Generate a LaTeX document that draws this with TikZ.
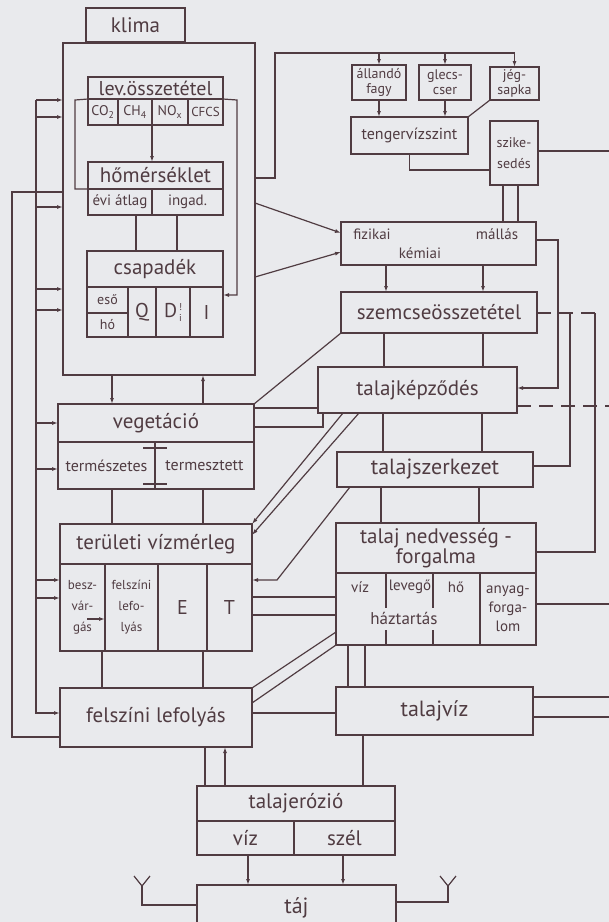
\documentclass[tikz,border=0pt]{standalone}
\usepackage{fontspec}
\setmainfont{PT Sans}
\usetikzlibrary{arrows.meta}
\definecolor{ink}{RGB}{80,60,66}
\definecolor{paper}{RGB}{233,234,237}
\newcommand\fsz[1]{\fontsize{#1}{#1}\selectfont}
\newcommand\fsk[2]{\fontsize{#1}{#2}\selectfont}

\begin{document}
\begin{tikzpicture}
[x=1pt,y=-1pt]
\tikzset{box/.style={draw=ink,line width=1.3pt,inner sep=0pt,outer sep=0pt,anchor=north west,align=center,text=ink}}
\tikzset{lbl/.style={inner sep=0pt,text=ink,align=center}}
\tikzset{con/.style={draw=ink,line width=1.2pt}}
\tikzset{arr/.style={con,-{Latex[length=6pt,width=4pt]}}}
\tikzset{brk/.style={dash pattern=on 14pt off 8pt}}
\useasboundingbox[fill=paper] (0,0) rectangle (609,922);

% klima
\node [box,minimum width=99pt,minimum height=34pt,font={\fsz{21}}] (klima) at (86,8) {klima};
\node [box,minimum width=192pt,minimum height=332pt] (klimabox) at (63,43) {};
\node [box,minimum width=135pt,minimum height=22pt,font={\fsz{20}}] (lev) at (88,77) {lev.összetétel};
\node [box,minimum width=30pt,minimum height=26pt,font={\fsz{14}}] (co2) at (88,99) {CO\textsubscript{2}};
\node [box,minimum width=34pt,minimum height=26pt,font={\fsz{14}}] (ch4) at (118,99) {CH\textsubscript{4}};
\node [box,minimum width=36pt,minimum height=26pt,font={\fsz{14}}] (nox) at (152,99) {NO\textsubscript{x}};
\node [box,minimum width=35pt,minimum height=26pt,font={\fsz{13}}] (cfcs) at (188,99) {CFCS};
\node [box,minimum width=135pt,minimum height=27pt,font={\fsz{21}}] (hom) at (88,162) {hőmérséklet};
\node [box,minimum width=64pt,minimum height=26pt,font={\fsz{15}}] (atlag) at (88,189) {évi átlag};
\node [box,minimum width=71pt,minimum height=26pt,font={\fsz{15}}] (ingad) at (152,189) {ingad.};
\node [box,minimum width=136pt,minimum height=36pt,font={\fsz{21}}] (csap) at (87,251) {csapadék};
\node [box,minimum width=41pt,minimum height=26pt,font={\fsz{14}}] (eso) at (87,287) {eső};
\node [box,minimum width=41pt,minimum height=24pt,font={\fsz{14}}] (ho) at (87,313) {hó};
\node [box,minimum width=28pt,minimum height=50pt,font={\fsz{20}}] (qcell) at (128,287) {Q};
\node [box,minimum width=34pt,minimum height=50pt,font={\fsz{20}}] (dcell) at (156,287) {D\kern2pt\rlap{\raisebox{7pt}{\fsz{10}!}}\raisebox{-4pt}{\fsz{10}i}};
\node [box,minimum width=33pt,minimum height=50pt,font={\fsz{20}}] (icell) at (190,287) {I};

% vegetacio, vizmerleg, lefolyas
\node [box,minimum width=196pt,minimum height=38pt,font={\fsz{21}}] (veg) at (58,404) {vegetáció};
\node [box,minimum width=97pt,minimum height=47pt,font={\fsz{16}}] (term1) at (58,442) {természetes};
\node [box,minimum width=99pt,minimum height=47pt,font={\fsz{16}}] (term2) at (155,442) {termesztett};
\node [box,minimum width=192pt,minimum height=40pt,font={\fsz{21}}] (terul) at (60,524) {területi vízmérleg};
\node [box,minimum width=45pt,minimum height=87pt,font={\fsk{13}{21}}] (besz) at (60,564) {besz-\\vár-\\gás};
\node [box,minimum width=53pt,minimum height=87pt,font={\fsk{13}{21}}] (felsz) at (105,564) {felszíni\\lefo-\\lyás};
\node [box,minimum width=49pt,minimum height=87pt,font={\fsz{20}}] (ecell) at (158,564) {E};
\node [box,minimum width=45pt,minimum height=87pt,font={\fsz{20}}] (tcell) at (207,564) {T};
\node [box,minimum width=192pt,minimum height=59pt,font={\fsz{21}}] (felszin) at (60,688) {felszíni lefolyás};

% erozio, taj
\node [box,minimum width=198pt,minimum height=35pt,font={\fsz{21}}] (erozio) at (197,786) {talajerózió};
\node [box,minimum width=97pt,minimum height=34pt,font={\fsz{21}}] (eviz) at (197,821) {víz};
\node [box,minimum width=101pt,minimum height=34pt,font={\fsz{21}}] (eszel) at (294,821) {szél};
\node [box,minimum width=199pt,minimum height=45pt,font={\fsz{22}}] (taj) at (197,885) {táj};

% right column
\node [box,minimum width=54pt,minimum height=35pt,font={\fsk{14}{15}}] (fagy) at (352,65) {állandó\\fagy};
\node [box,minimum width=52pt,minimum height=35pt,font={\fsk{14}{15}}] (glecs) at (419,65) {glecs-\\cser};
\node [box,minimum width=49pt,minimum height=33pt,font={\fsk{14}{15}}] (jeg) at (490,67) {jég-\\sapka};
\node [box,minimum width=117pt,minimum height=37pt,font={\fsz{16}}] (tenger) at (351,117) {tengervízszint};
\node [box,minimum width=48pt,minimum height=64pt,font={\fsk{14}{21}}] (szik) at (490,121) {szike-\\sedés};
\node [box,minimum width=195pt,minimum height=43pt] (fiz) at (341,222) {};
\node [lbl,font={\fsz{15}}] (fizt) at (372,234) {fizikai};
\node [lbl,font={\fsz{15}}] (kemt) at (420,253) {kémiai};
\node [lbl,font={\fsz{15}}] (mallt) at (497,234) {mállás};
\node [box,minimum width=196pt,minimum height=41pt,font={\fsz{21}}] (szem) at (341,292) {szemcseösszetétel};
\node [box,minimum width=199pt,minimum height=46pt,font={\fsz{21}}] (tkep) at (318,367) {talajképződés};
\node [box,minimum width=196pt,minimum height=35pt,font={\fsz{22}}] (tszk) at (337,452) {talajszerkezet};
\node [box,minimum width=200pt,minimum height=50pt,font={\fsk{21}{19}}] (tned) at (336,523) {talaj nedvesség -\\forgalma};
\node [box,minimum width=144pt,minimum height=72pt] (haz) at (336,573) {};
\node [lbl,font={\fsz{15}}] (vizt) at (360,587) {víz};
\node [lbl,font={\fsz{15}}] (levt) at (410,587) {levegő};
\node [lbl,font={\fsz{15}}] (hot) at (456,587) {hő};
\node [lbl,font={\fsz{17}}] (hazt) at (404,618) {háztartás};
\node [box,minimum width=56pt,minimum height=72pt,font={\fsk{15}{19}}] (anyag) at (480,573) {anyag-\\forga-\\lom};
\node [box,minimum width=197pt,minimum height=48pt,font={\fsz{22}}] (tviz) at (336,687) {talajvíz};

\coordinate (topline) at (275,53);
\coordinate (lk) at (75,100);
\coordinate (rk) at (237,100);
\coordinate (la) at (36,100);
\coordinate (lb) at (12,737);
\coordinate (mr) at (558,240);
\coordinate (dA) at (570,313);
\coordinate (dB) at (595,313);
\coordinate (bendT) at (277,580);
\coordinate (yl) at (142,886);
\coordinate (yr) at (448,886);
\coordinate (e1) at (609,151);
\coordinate (e2) at (609,406);
\coordinate (e3) at (609,604);
\coordinate (e4) at (609,697);
\coordinate (e5) at (609,717);

% inner dividers
\foreach \dx in {50,97} {
	\draw [con] ([xshift=\dx pt]haz.north west) -- ([xshift=\dx pt,yshift=-35pt]haz.north west);
	\draw [con] ([xshift=\dx pt]haz.south west) -- ([xshift=\dx pt,yshift=15pt]haz.south west);
}
\foreach \dy in {6,42}
	\draw [con] ([xshift=-12pt,yshift=-\dy pt]term2.north west) -- ([xshift=12pt,yshift=-\dy pt]term2.north west);

% inside klima
\draw [arr] (nox.south west) -- (hom.north -| nox.south west);
\draw [con] (lev.south west) -- (lk) |- (hom.south west);
\draw [arr] (lev.south east) -- (rk) |- ([yshift=-8pt]icell.north east);
\draw [con] ([xshift=48pt]atlag.south west) -- ([xshift=49pt]csap.north west);
\draw [con] ([xshift=25pt]ingad.south west) -- ([xshift=90pt]csap.north west);

% left column
\draw [arr] ([xshift=49pt]klimabox.south west) -- ([xshift=54pt]veg.north west);
\draw [arr] ([xshift=145pt]veg.north west) -- ([xshift=140pt]klimabox.south west);
\draw [con] ([xshift=54pt]term1.south west) -- ([xshift=52pt]terul.north west);
\draw [con] ([xshift=48pt]term2.south west) -- ([xshift=143pt]terul.north west);
\draw [con] ([xshift=42pt]besz.south west) -- ([xshift=42pt]felszin.north west);
\draw [con] ([xshift=-4pt]tcell.south west) -- ([xshift=143pt]felszin.north west);
\draw [arr] ([xshift=27pt,yshift=-55pt]besz.north west) -- ([yshift=-55pt]felsz.north west);
\draw [con] ([xshift=145pt]felszin.south west) -- ([xshift=8pt]erozio.north west);
\draw [arr] ([xshift=28pt]erozio.north west) -- ([xshift=165pt]felszin.south west);
\draw [con] ([xshift=27pt]tviz.south west) -- ([xshift=166pt]erozio.north west);
\draw [arr] ([xshift=51pt]eviz.south west) -- ([xshift=51pt]taj.north west);
\draw [arr] ([xshift=49pt]eszel.south west) -- ([xshift=146pt]taj.north west);
\draw [con] (yl) -- +(-8,-10) (yl) -- +(8,-10);
\draw [con] (yl) |- ([yshift=-20pt]taj.north west);
\draw [con] (yr) -- +(-8,-10) (yr) -- +(8,-10);
\draw [con] (yr) |- ([yshift=-17pt]taj.north east);

% feedback lines on the left
\draw [arr] (la) |- ([yshift=-25pt]felszin.north west);
\foreach \dy in {57,74,164,246,267}
	\draw [arr] ([xshift=-27pt,yshift=-\dy pt]klimabox.north west) -- ([yshift=-\dy pt]klimabox.north west);
\draw [arr] ([xshift=-22pt,yshift=-19pt]veg.north west) -- ([yshift=-19pt]veg.north west);
\draw [arr] ([xshift=-22pt,yshift=-27pt]term1.north west) -- ([yshift=-27pt]term1.north west);
\foreach \dy in {16,34}
	\draw [arr] ([xshift=-24pt,yshift=-\dy pt]besz.north west) -- ([yshift=-\dy pt]besz.north west);
\draw [con] ([yshift=-149pt]klimabox.north west) -| (lb) -- ([yshift=-49pt]felszin.north west);

% right column
\draw [con] ([yshift=-135pt]klimabox.north east) -| (topline) -- (topline -| jeg.north);
\foreach \n in {fagy,glecs,jeg}
	\draw [arr] (topline -| \n.north) -- (\n.north);
\draw [arr] (fagy.south) -- (tenger.north -| fagy.south);
\draw [arr] (glecs.south) -- (tenger.north -| glecs.south);
\draw [con] (jeg.south west) -- (tenger.north east);
\draw [con] (tenger.south) |- ([yshift=-49pt]szik.north west);
\draw [con] ([yshift=-30pt]szik.north east) -- (e1);
\draw [con] ([xshift=13pt]szik.south west) -- ([xshift=162pt]fiz.north west);
\draw [con] ([xshift=28pt]szik.south west) -- ([xshift=177pt]fiz.north west);
\draw [arr] ([yshift=-160pt]klimabox.north east) -- ([yshift=-11pt]fiz.north west);
\draw [arr] ([yshift=-234pt]klimabox.north east) -- ([yshift=-30pt]fiz.north west);
\foreach \dx in {45,142}
	\draw [arr] ([xshift=\dx pt]fiz.south west) -- ([xshift=\dx pt]szem.north west);
\draw [arr] ([yshift=-18pt]fiz.north east) -- (mr) |- ([yshift=-21pt]tkep.north east);
\draw [con] ([xshift=43pt]szem.south west) -- ([xshift=66pt]tkep.north west);
\draw [con] ([xshift=142pt]szem.south west) -- ([xshift=165pt]tkep.north west);
\draw [con] (szem.south west) -- (veg.north east);
\draw [con,brk] ([yshift=-21pt]szem.north east) -- (dB);
\draw [con] (dA) |- ([yshift=-14pt]tszk.north east);
\draw [con] (dB) |- ([yshift=-29pt]tned.north east);
\draw [con,brk] ([yshift=-39pt]tkep.north east) -- (e2);
\draw [con] ([yshift=-4pt]veg.north east) -- ([yshift=-41pt]tkep.north west);
\draw [con] ([yshift=-23pt]veg.north east) -| ([xshift=5pt]tkep.south west);
\draw [arr] ([xshift=25pt]tkep.south west) -- (terul.north east);
\draw [arr] ([xshift=41pt]tkep.south west) -- ([yshift=-11pt]terul.north east);
\draw [con] ([xshift=65pt]tkep.south west) -- ([xshift=46pt]tszk.north west);
\draw [con] ([xshift=164pt]tkep.south west) -- ([xshift=145pt]tszk.north west);
\draw [arr] ([xshift=13pt]tszk.south west) -- (bendT) -- (bendT -| tcell.east);
\draw [con] ([xshift=44pt]tszk.south west) -- ([xshift=45pt]tned.north west);
\draw [con] ([xshift=142pt]tszk.south west) -- ([xshift=143pt]tned.north west);
\draw [con] ([yshift=-33pt]tcell.north east) -- ([yshift=-24pt]haz.north west);
\draw [con] ([yshift=-51pt]tcell.north east) -- ([yshift=-42pt]haz.north west);
\draw [con] ([yshift=-31pt]anyag.north east) -- (e3);
\draw [con] ([xshift=12pt]haz.south west) -- ([xshift=12pt]tviz.north west);
\draw [con] ([xshift=29pt]haz.south west) -- ([xshift=29pt]tviz.north west);
\draw [con] (felszin.north east) -- ([yshift=-59pt]haz.north west);
\draw [con] ([yshift=-15pt]felszin.north east) -- (haz.south west);
\draw [con] ([yshift=-25pt]felszin.north east) -- ([yshift=-26pt]tviz.north west);
\draw [con] ([yshift=-10pt]tviz.north east) -- (e4);
\draw [con] ([yshift=-30pt]tviz.north east) -- (e5);
\end{tikzpicture}
\end{document}
